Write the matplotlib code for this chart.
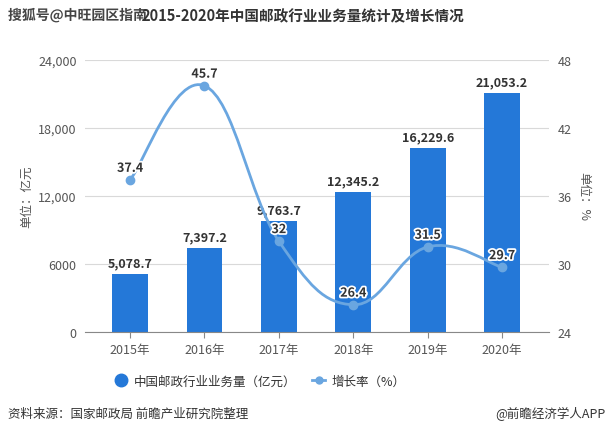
import numpy as np
import matplotlib.pyplot as plt
import matplotlib.patheffects as pe
from matplotlib.path import Path
from matplotlib.patches import PathPatch
from matplotlib.lines import Line2D

plt.rcParams['font.family'] = ['Noto Sans CJK SC', 'DejaVu Sans']

# ---------------------------------------------------------------------------
# Data
# ---------------------------------------------------------------------------
years = ["2015年", "2016年", "2017年", "2018年", "2019年", "2020年"]
volume = [5078.7, 7397.2, 9763.7, 12345.2, 16229.6, 21053.2]   # 亿元
growth = [37.4, 45.7, 32.0, 26.4, 31.5, 29.7]                  # %
growth_labels = ["37.4", "45.7", "32", "26.4", "31.5", "29.7"]

BAR_COLOR = "#2478d8"
LINE_COLOR = "#6aa6e0"
TEXT_COLOR = "#333333"
TICK_COLOR = "#555555"

fig = plt.figure(figsize=(6.12, 4.35), dpi=100)
ax = fig.add_axes([0.139, 0.2345, 0.758, 0.626])

x = np.arange(len(years))

# --- bars ---
ax.bar(x, volume, width=0.48, color=BAR_COLOR, zorder=2)
for xi, v in zip(x, volume):
    ax.text(xi, v + 400, f"{v:,.1f}", ha="center", va="bottom",
            fontsize=9, fontweight="bold", color=TEXT_COLOR, zorder=5)

ax.set_ylim(0, 24000)
ax.set_yticks([0, 6000, 12000, 18000, 24000])
ax.set_yticklabels(["0", "6000", "12,000", "18,000", "24,000"])
ax.set_xlim(-0.605, 5.63)
ax.set_xticks(x)
ax.set_xticklabels(years)
ax.grid(axis="y", color="#d9d9d9", linewidth=0.8, zorder=0)
for s in ["top", "right", "left"]:
    ax.spines[s].set_visible(False)
ax.spines["bottom"].set_color("#888888")
ax.tick_params(axis="y", length=0, labelsize=9, colors=TICK_COLOR, pad=6)
ax.tick_params(axis="x", length=4, color="#888888", labelsize=9,
               colors=TICK_COLOR, pad=4)
ax.set_ylabel("单位：亿元", fontsize=9, color=TICK_COLOR, labelpad=4)

# --- growth line on secondary axis (smooth bezier through the points) ---
ax2 = ax.twinx()
ax2.set_ylim(24, 48)
ax2.set_yticks([24, 30, 36, 42, 48])
for s in ["top", "right", "left", "bottom"]:
    ax2.spines[s].set_visible(False)
ax2.tick_params(axis="y", length=0, labelsize=9, colors=TICK_COLOR, pad=6)
ax2.set_ylabel("单位：%", fontsize=9, color=TICK_COLOR, rotation=-90,
               labelpad=14)

pts = np.column_stack([x, growth]).astype(float)
s = 0.2
verts = [tuple(pts[0])]
codes = [Path.MOVETO]
for i in range(len(pts) - 1):
    p0 = pts[i - 1] if i > 0 else pts[i]
    p1, p2 = pts[i], pts[i + 1]
    p3 = pts[i + 2] if i + 2 < len(pts) else pts[i + 1]
    c1 = p1 + (p2 - p0) * s
    c2 = p2 - (p3 - p1) * s
    verts += [tuple(c1), tuple(c2), tuple(p2)]
    codes += [Path.CURVE4] * 3
ax2.add_patch(PathPatch(Path(verts, codes), facecolor="none",
                        edgecolor=LINE_COLOR, linewidth=2, zorder=3))
ax2.plot(x, growth, linestyle="none", marker="o", markersize=6,
         color=LINE_COLOR, zorder=4)
for xi, g, lab in zip(x, growth, growth_labels):
    ax2.text(xi, g + 0.45, lab, ha="center", va="bottom", fontsize=9,
             fontweight="bold", color=TEXT_COLOR, zorder=6,
             path_effects=[pe.withStroke(linewidth=2.5, foreground="white")])

# --- legend ---
handles = [
    Line2D([], [], linestyle="none", marker="o", markersize=9,
           color=BAR_COLOR),
    Line2D([], [], color=LINE_COLOR, linewidth=2, marker="o", markersize=5),
]
fig.legend(handles, ["中国邮政行业业务量（亿元）", "增长率（%）"],
           loc="center", bbox_to_anchor=(0.425, 0.122), ncol=2,
           frameon=False, fontsize=9, handlelength=1.0, handletextpad=0.5,
           columnspacing=1.3, labelcolor=TEXT_COLOR)

# --- title and footer ---
fig.text(0.013, 0.962, "搜狐号@中旺园区指南", fontsize=10, fontweight="bold",
         color="#444444", va="center",
         path_effects=[pe.withStroke(linewidth=2.5, foreground="white")])
fig.text(0.232, 0.962, "2015-2020年中国邮政行业业务量统计及增长情况",
         fontsize=10.5, fontweight="bold", color=TEXT_COLOR, va="center")
fig.text(0.013, 0.048, "资料来源：国家邮政局 前瞻产业研究院整理",
         fontsize=9, color=TEXT_COLOR, va="center")
fig.text(0.99, 0.048, "@前瞻经济学人APP", fontsize=9, color=TEXT_COLOR,
         va="center", ha="right")

fig.savefig("out.png", dpi=100)
